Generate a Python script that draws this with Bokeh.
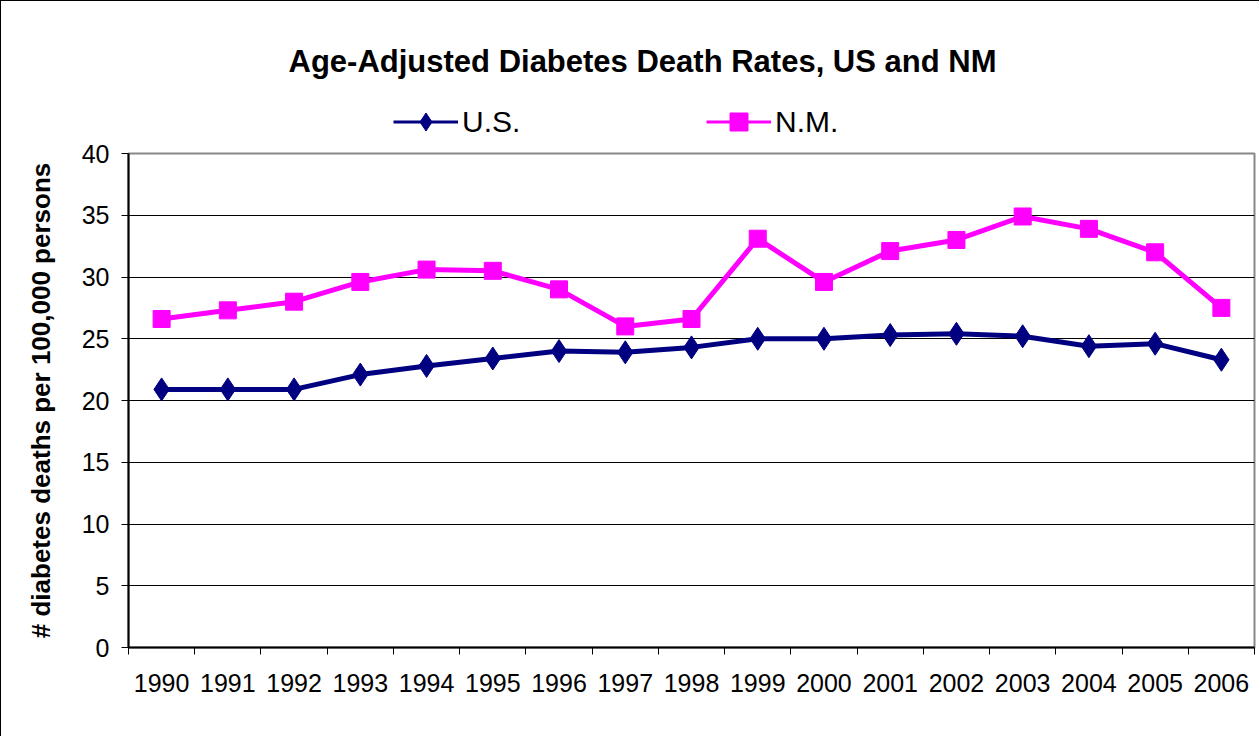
from bokeh.plotting import figure
from bokeh.layouts import column
from bokeh.models import (FixedTicker, Range1d, Legend, LegendItem, Label, ColumnDataSource)
from bokeh.embed import file_html
from bokeh.resources import INLINE

years = ["1990", "1991", "1992", "1993", "1994", "1995", "1996", "1997", "1998",
         "1999", "2000", "2001", "2002", "2003", "2004", "2005", "2006"]
us_rates = [20.9, 20.9, 20.9, 22.1, 22.8, 23.4, 24.0, 23.9, 24.3,
            25.0, 25.0, 25.3, 25.4, 25.2, 24.4, 24.6, 23.3]
nm_rates = [26.6, 27.3, 28.0, 29.6, 30.6, 30.5, 29.0, 26.0, 26.6,
            33.1, 29.6, 32.1, 33.0, 34.9, 33.9, 32.0, 27.5]
y_ticks = [0, 5, 10, 15, 20, 25, 30, 35, 40]

title_text = "Age-Adjusted Diabetes Death Rates, US and NM"
y_label = "# diabetes deaths per 100,000 persons"

US_COLOR = "#000080"
NM_COLOR = "#FF00FF"
FONT = "Liberation Sans"

W = 1258
TOP_H = 137
BOT_H = 598

# ---------- header figure: title + legend ----------
top = figure(width=W, height=TOP_H, output_backend="svg", toolbar_location=None,
             x_range=Range1d(0, 1), y_range=Range1d(0, 1), min_border=0,
             title=None)
top.axis.visible = False
top.grid.visible = False
top.outline_line_color = None
top.background_fill_color = "white"
top.border_fill_color = "white"

nan = float("nan")
leg_src = ColumnDataSource(dict(x=[nan], y=[nan]))
l_us = top.line("x", "y", source=leg_src, line_color=US_COLOR, line_width=3)
m_us = top.scatter("x", "y", source=leg_src, marker="diamond", fill_color=US_COLOR,
                   line_color=US_COLOR)
l_nm = top.line("x", "y", source=leg_src, line_color=NM_COLOR, line_width=3)
m_nm = top.scatter("x", "y", source=leg_src, marker="square", fill_color=NM_COLOR,
                   line_color=NM_COLOR)

legend = Legend(items=[LegendItem(label="U.S.", renderers=[l_us, m_us]),
                       LegendItem(label="N.M.", renderers=[l_nm, m_nm])],
                orientation="horizontal", location=(265, -6),
                padding=0, margin=0, spacing=0,
                glyph_width=65, glyph_height=45, label_height=45,
                label_width=244, label_standoff=4,
                label_text_font=FONT, label_text_font_size="30px",
                label_text_color="black",
                border_line_color=None, background_fill_alpha=0)
top.add_layout(legend, "center")

title = Label(x=514, y=77, x_units="screen", y_units="screen", text=title_text,
              text_align="center", text_baseline="alphabetic",
              text_font=FONT, text_font_size="31px", text_font_style="bold",
              text_color="black")
top.add_layout(title)

# ---------- chart figure ----------
idx = list(range(len(years)))
src = ColumnDataSource(dict(x=idx, us=us_rates, nm=nm_rates))

p = figure(width=W, height=BOT_H, output_backend="svg", toolbar_location=None,
           x_range=Range1d(-0.5, len(years) - 0.5), y_range=Range1d(0, 40),
           min_border_left=127, min_border_right=5, min_border_top=15,
           min_border_bottom=89, title=None)
p.background_fill_color = "white"
p.border_fill_color = "white"
p.outline_line_color = "#888888"
p.outline_line_width = 2

p.xgrid.visible = False
p.ygrid.ticker = FixedTicker(ticks=y_ticks)
p.ygrid.grid_line_color = "#000000"
p.ygrid.grid_line_width = 1

ya = p.yaxis[0]
ya.ticker = FixedTicker(ticks=y_ticks)
ya.major_tick_out = 7
ya.major_tick_in = 0
ya.minor_tick_line_color = None
ya.axis_line_color = "black"
ya.axis_line_width = 2
ya.major_tick_line_color = "black"
ya.major_label_text_font = FONT
ya.major_label_text_font_size = "25px"
ya.major_label_text_color = "black"
ya.major_label_standoff = 12
ya.axis_label = y_label
ya.axis_label_text_font = FONT
ya.axis_label_text_font_size = "26px"
ya.axis_label_text_font_style = "bold"
ya.axis_label_text_color = "black"
ya.axis_label_standoff = 23

xa = p.xaxis[0]
xa.ticker = FixedTicker(ticks=idx, minor_ticks=[i - 0.5 for i in range(len(years) + 1)])
xa.major_label_overrides = {i: y for i, y in zip(idx, years)}
xa.major_tick_out = 0
xa.major_tick_in = 0
xa.minor_tick_out = 7
xa.minor_tick_in = 0
xa.minor_tick_line_color = "black"
xa.axis_line_color = "black"
xa.axis_line_width = 2
xa.major_label_text_font = FONT
xa.major_label_text_font_size = "25px"
xa.major_label_text_color = "black"
xa.major_label_standoff = 19

p.line("x", "us", source=src, line_color=US_COLOR, line_width=5, line_join="round")
p.scatter("x", "us", source=src, marker="diamond", size=23, fill_color=US_COLOR,
          line_color=US_COLOR)
p.line("x", "nm", source=src, line_color=NM_COLOR, line_width=5, line_join="round")
p.scatter("x", "nm", source=src, marker="square", size=17, fill_color=NM_COLOR,
          line_color=NM_COLOR)

layout = column(top, p, spacing=0,
                styles={"border-left": "1px solid black", "border-top": "1px solid black"})

open("out.html", "w").write(file_html(layout, INLINE))
